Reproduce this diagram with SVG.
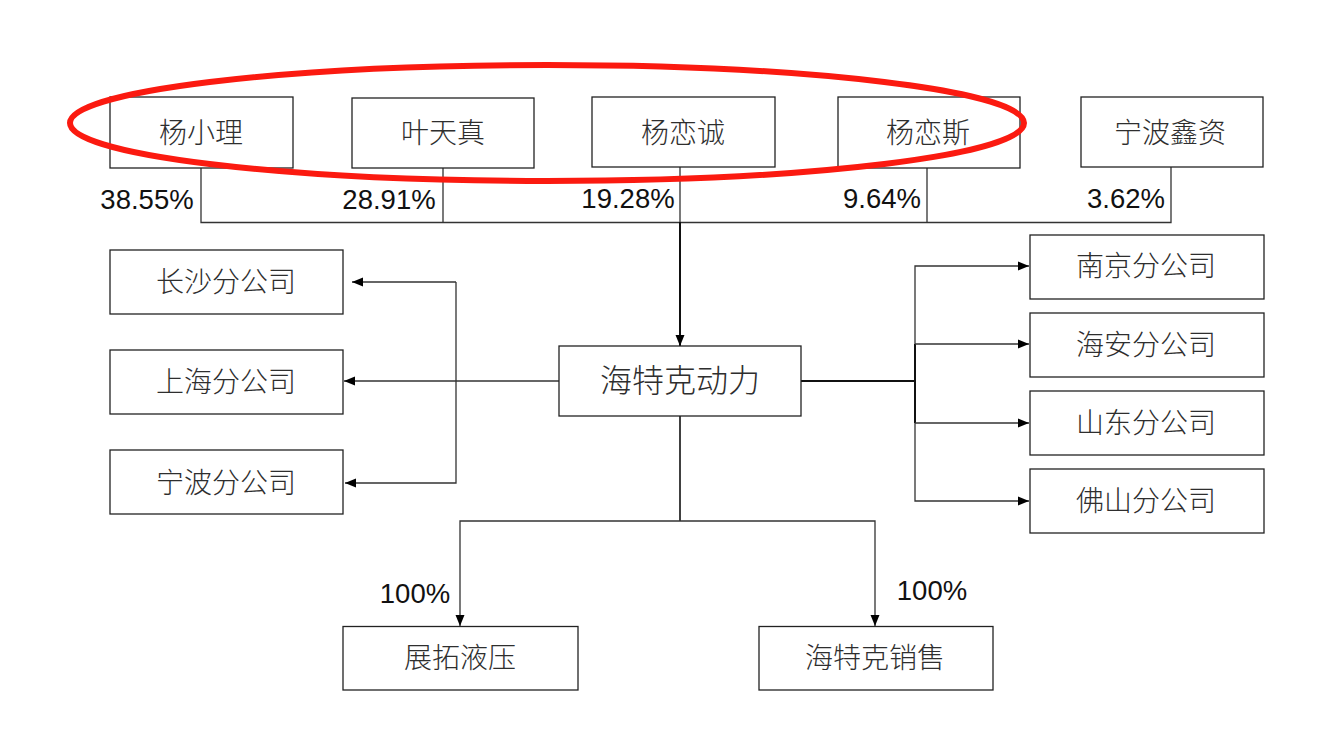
<svg xmlns="http://www.w3.org/2000/svg" width="1323" height="752" viewBox="0 0 1323 752">
<style>
.b{fill:none;stroke:#222;stroke-width:1.3}
.t{font-family:"Noto Sans CJK SC","Liberation Sans",sans-serif;font-size:28px;font-weight:300;fill:#2e2e2e;text-anchor:middle}
.p{font-family:"Liberation Sans",sans-serif;font-size:27.500px;fill:#111;text-anchor:middle}
.c{fill:none;stroke:#333;stroke-width:1.3}
.h{fill:none;stroke:#111;stroke-width:2}
</style>
<defs><marker id="a" markerUnits="userSpaceOnUse" markerWidth="12" markerHeight="10" refX="11" refY="5" orient="auto"><path d="M0 0.5L11 5L0 9.5Z" fill="#000"/></marker></defs>
<rect width="1323" height="752" fill="#fff"/>
<g id="connectors">
<path class="c" d="M201 168V222.500H1171V167M443 168V222.500M927 168V222.500M680 167V222"/>
<path class="h" d="M680 222V346" marker-end="url(#a)"/>
<path class="c" d="M559 381H344" marker-end="url(#a)"/>
<path class="c" d="M456 282H352" marker-end="url(#a)"/>
<path class="c" d="M456 282V483H345" marker-end="url(#a)"/>
<path class="h" d="M801 381H915"/>
<path class="h" d="M915 344V423"/>
<path class="c" d="M915 344V266H1029" marker-end="url(#a)"/>
<path class="c" d="M915 423V501H1029" marker-end="url(#a)"/>
<path class="c" d="M915 344H1029" marker-end="url(#a)"/>
<path class="c" d="M915 423H1029" marker-end="url(#a)"/>
<path class="h" style="stroke-width:1.6" d="M680 416V521"/>
<path class="c" d="M680 521H460V626" marker-end="url(#a)"/>
<path class="c" d="M680 521H875V626" marker-end="url(#a)"/>
</g>
<g id="n1"><rect class="b" x="110" y="97" width="183" height="71"/><text class="t" x="201" y="143">杨小理</text></g>
<g id="n2"><rect class="b" x="352" y="98" width="182" height="70"/><text class="t" x="443" y="143">叶天真</text></g>
<g id="n3"><rect class="b" x="592" y="97" width="183" height="70"/><text class="t" x="683" y="143">杨恋诚</text></g>
<g id="n4"><rect class="b" x="838" y="97" width="182" height="71"/><text class="t" x="928" y="143">杨恋斯</text></g>
<g id="n5"><rect class="b" x="1081" y="97" width="182" height="70"/><text class="t" x="1170" y="143">宁波鑫资</text></g>
<g id="n6"><rect class="b" x="110" y="250" width="233" height="64"/><text class="t" x="226" y="292">长沙分公司</text></g>
<g id="n7"><rect class="b" x="110" y="350" width="233" height="64"/><text class="t" x="226" y="392">上海分公司</text></g>
<g id="n8"><rect class="b" x="110" y="450" width="233" height="64"/><text class="t" x="226" y="493">宁波分公司</text></g>
<g id="n9"><rect class="b" x="559" y="346" width="242" height="70"/><text class="t" style="font-size:32px" x="680" y="392">海特克动力</text></g>
<g id="n10"><rect class="b" x="1030" y="235" width="234" height="64"/><text class="t" x="1146" y="276">南京分公司</text></g>
<g id="n11"><rect class="b" x="1030" y="313" width="234" height="64"/><text class="t" x="1146" y="355">海安分公司</text></g>
<g id="n12"><rect class="b" x="1030" y="391" width="234" height="64"/><text class="t" x="1146" y="433">山东分公司</text></g>
<g id="n13"><rect class="b" x="1030" y="469" width="234" height="64"/><text class="t" x="1146" y="511">佛山分公司</text></g>
<g id="n14"><rect class="b" x="343" y="626.500" width="235" height="63.500"/><text class="t" x="460" y="668">展拓液压</text></g>
<g id="n15"><rect class="b" x="759" y="626.500" width="234" height="63.500"/><text class="t" x="875" y="668">海特克销售</text></g>
<g id="labels">
<text class="p" x="147" y="209">38.55%</text>
<text class="p" x="389" y="209">28.91%</text>
<text class="p" x="628" y="208">19.28%</text>
<text class="p" x="882" y="208">9.64%</text>
<text class="p" x="1126" y="208">3.62%</text>
<text class="p" x="415" y="603">100%</text>
<text class="p" x="932" y="600">100%</text>
</g>
<ellipse id="highlight" cx="547" cy="123" rx="477" ry="58" fill="none" stroke="#fb1a10" stroke-width="6"/>
</svg>
